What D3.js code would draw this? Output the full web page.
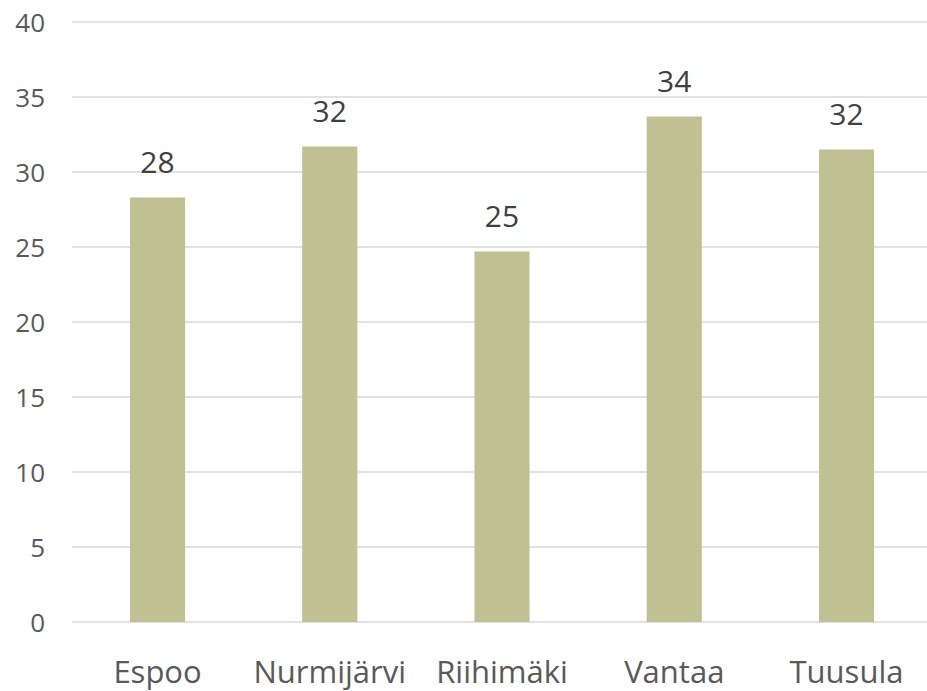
<!DOCTYPE html>
<html><head><meta charset="utf-8">
<script src="https://cdn.jsdelivr.net/npm/d3@7"></script>
<style>body{margin:0;background:#fff}svg{display:block}</style>
</head><body>
<svg id="c" width="927" height="691"></svg>
<script>
const categories = ["Espoo", "Nurmijärvi", "Riihimäki", "Vantaa", "Tuusula"];
const values = [28.3, 31.7, 24.7, 33.7, 31.5];
const yTicks = [0, 5, 10, 15, 20, 25, 30, 35, 40];

const svg = d3.select("#c");
const font = "'Open Sans', 'Noto Sans', sans-serif";
const x = d3.scaleBand().domain(categories).range([71.4, 932.6]).paddingInner(0.68).paddingOuter(0.34);
const y = d3.scaleLinear().domain([0, 40]).range([622, 22]);

// gridlines
svg.append("g").selectAll("line").data(yTicks).join("line")
  .attr("x1", 72).attr("x2", 927)
  .attr("y1", d => y(d)).attr("y2", d => y(d))
  .attr("stroke", "#d9d9d9").attr("stroke-width", 1.5);

// y axis labels
const yAxis = d3.axisLeft(y).tickValues(yTicks).tickSize(0).tickPadding(0);
const ga = svg.append("g").attr("transform", "translate(45,0)").call(yAxis);
ga.select(".domain").remove();
ga.selectAll("text").attr("font-family", font).attr("font-size", 26).attr("fill", "#595959").attr("text-anchor", "end").attr("dy", "0.35em");

// bars
svg.append("g").selectAll("rect").data(categories).join("rect")
  .attr("x", d => x(d)).attr("width", x.bandwidth())
  .attr("y", (d, i) => y(values[i])).attr("height", (d, i) => y(0) - y(values[i]))
  .attr("fill", "#bfc193");

// data labels
svg.append("g").selectAll("text").data(categories).join("text")
  .attr("x", d => x(d) + x.bandwidth() / 2)
  .attr("y", (d, i) => y(values[i]) - 25)
  .attr("text-anchor", "middle").attr("font-family", font).attr("font-size", 30).attr("fill", "#404040")
  .text((d, i) => Math.round(values[i]));

// x axis labels
const xAxis = d3.axisBottom(x).tickSize(0).tickPadding(0);
const gx = svg.append("g").attr("transform", "translate(0,683)").call(xAxis);
gx.select(".domain").remove();
gx.selectAll("text").attr("font-family", font).attr("font-size", 31).attr("fill", "#595959").attr("dy", 0);
</script>
</body></html>
